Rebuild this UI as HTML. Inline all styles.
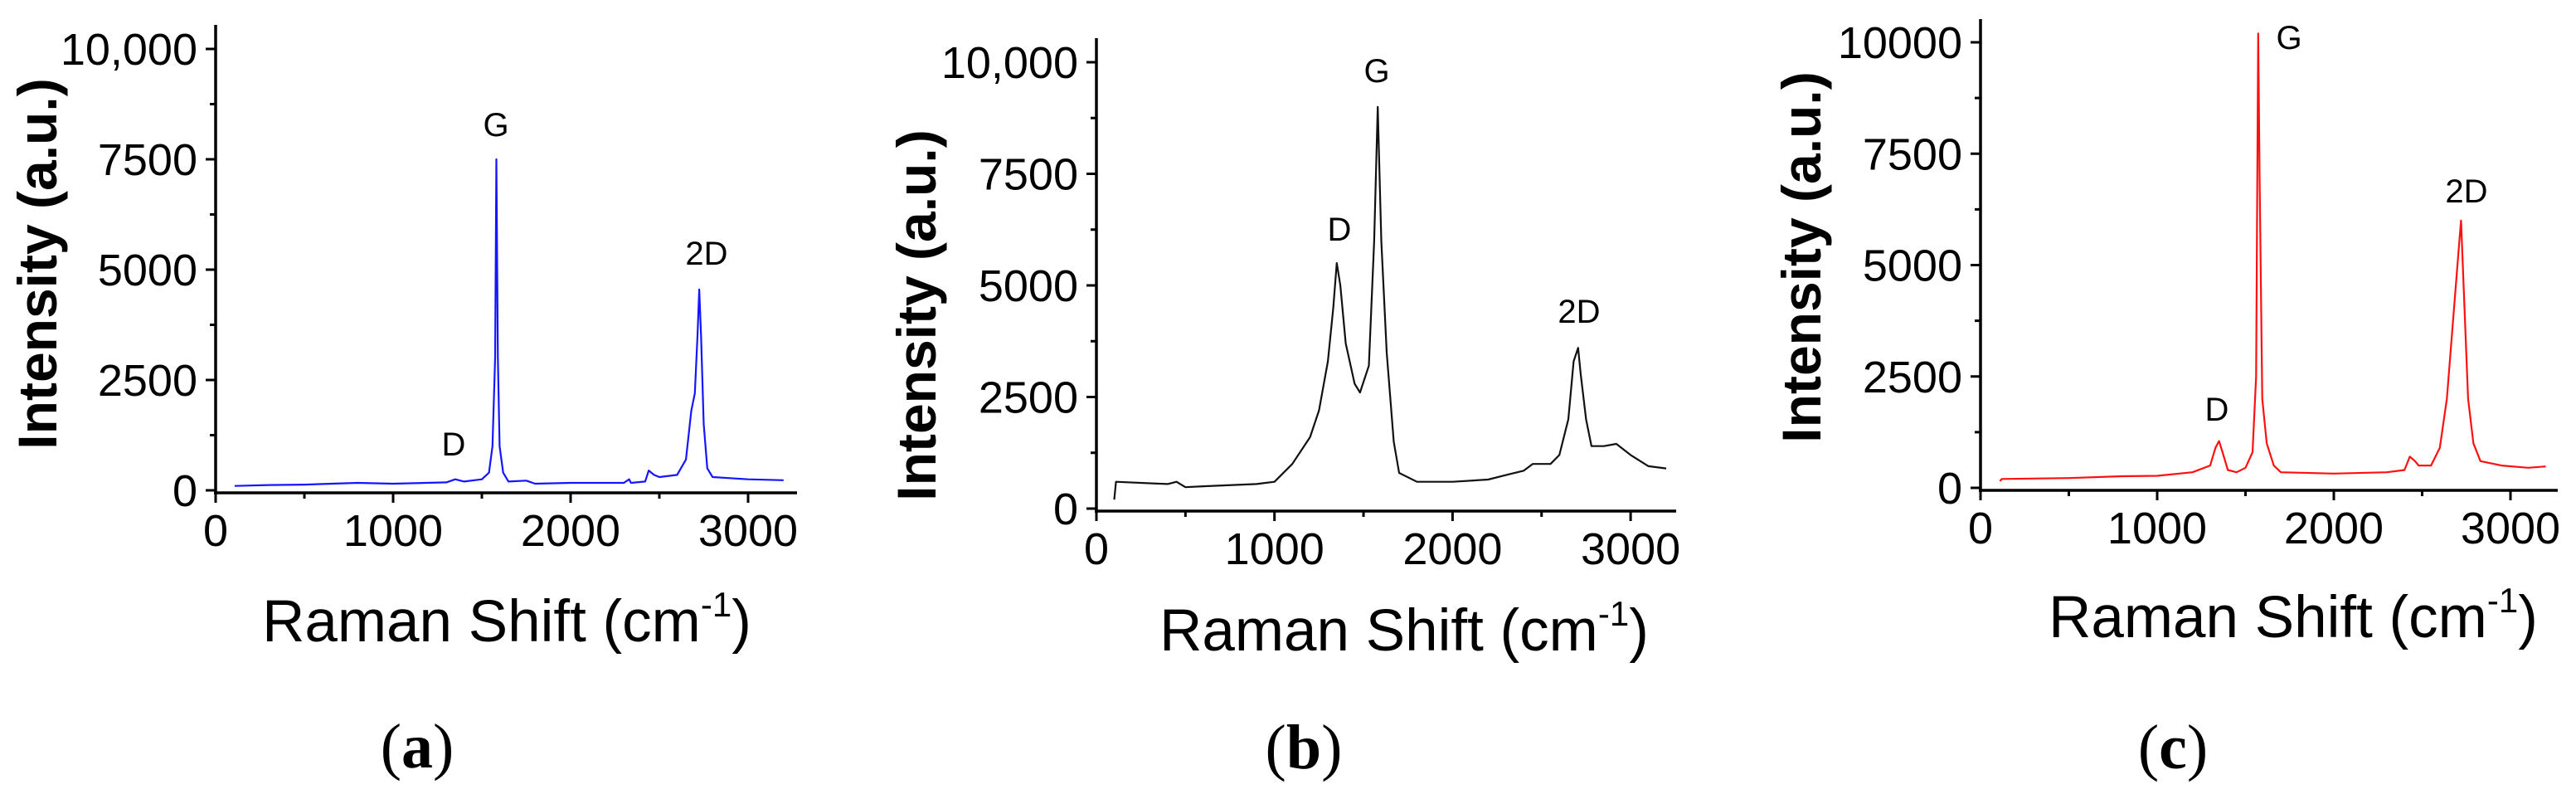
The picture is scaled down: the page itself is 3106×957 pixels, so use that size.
<!DOCTYPE html>
<html><head><meta charset="utf-8"><style>
html,body{margin:0;padding:0;background:#fff;}
svg{display:block;font-family:"Liberation Sans",Arial,sans-serif;}
</style></head><body>
<svg id="fig" width="3106" height="957" viewBox="0 0 3106 957" xmlns="http://www.w3.org/2000/svg"></svg>
<script>
// Panel (a) data
const shiftA = [107,300,500,800,1000,1300,1350,1400,1500,1540,1560,1575,1582,1590,1600,1620,1650,1750,1800,2000,2300,2330,2340,2420,2440,2470,2500,2600,2650,2680,2700,2715,2725,2735,2750,2770,2800,3000,3200];
const intA   = [100,120,130,170,150,180,250,200,250,400,1000,3000,7500,3000,1000,400,200,220,150,170,170,250,170,200,450,350,300,350,700,1800,2200,3500,4550,3500,1500,500,300,250,230];
// Panel (b) data
const shiftB = [100,110,400,450,500,600,900,1000,1100,1200,1250,1300,1330,1350,1370,1400,1450,1480,1530,1560,1580,1600,1630,1670,1700,1800,2000,2200,2300,2400,2450,2550,2600,2650,2680,2705,2720,2750,2780,2850,2920,3000,3100,3200];
const intB   = [200,600,550,600,480,500,550,600,1000,1600,2200,3300,4500,5500,5000,3700,2800,2600,3200,6000,9000,6000,3500,1500,800,600,600,650,750,850,1000,1000,1200,2000,3300,3600,3000,2000,1400,1400,1450,1200,950,900];
// Panel (c) data
const shiftC = [110,120,500,800,1000,1200,1300,1330,1350,1370,1400,1450,1500,1540,1560,1572,1580,1595,1620,1660,1700,2000,2300,2400,2430,2460,2480,2550,2600,2640,2680,2710,2720,2730,2760,2790,2830,2950,3100,3200];
const intC   = [150,200,220,260,270,350,500,900,1050,800,400,350,450,800,2500,10200,7000,2000,1000,500,350,320,350,400,700,600,500,500,900,2000,4000,5500,6000,5000,2000,1000,600,500,450,480];
const yTicks = [0,2500,5000,7500,10000];
const yLabelsAB = ["0","2500","5000","7500","10,000"];
const yLabelsC = ["0","2500","5000","7500","10000"];
const xTicks = [0,1000,2000,3000];
const xLabels = ["0","1000","2000","3000"];

const NS="http://www.w3.org/2000/svg";
const svg=document.getElementById('fig');
function mk(tag,attrs,parent){const e=document.createElementNS(NS,tag);for(const k in attrs)e.setAttribute(k,attrs[k]);(parent||svg).appendChild(e);return e;}

const panels=[
 {id:'a',ax:260,top:30,xaxY:594,y0:591,y10:59,px1000:214,right:961,xs:shiftA,ys:intA,color:'#1515ff',ylab:yLabelsAB,
  ytx:45,yty:318,xtx:611,xty:773,cap:503,capy:925,
  peaks:[['D',547,549],['G',598,164],['2D',852,319]]},
 {id:'b',ax:1322,top:46,xaxY:616,y0:613,y10:75,px1000:214.7,right:2021,xs:shiftB,ys:intB,color:'#111',ylab:yLabelsAB,
  ytx:1105,yty:380,xtx:1693,xty:784,cap:1572,capy:926,
  peaks:[['D',1615,290],['G',1660,99],['2D',1904,389]]},
 {id:'c',ax:2388,top:23,xaxY:591,y0:588,y10:51,px1000:213,right:3084,xs:shiftC,ys:intC,color:'#ff1010',ylab:yLabelsC,
  ytx:2172,yty:310,xtx:2765,xty:768,cap:2620,capy:926,
  peaks:[['D',2673,507],['G',2760,59],['2D',2974,244]]}
];

panels.forEach(p=>{
  const g=mk('g',{});
  
  
  const X=v=>p.ax+v*p.px1000/1000;
  const Y=v=>p.y0+(p.y10-p.y0)*v/10000;
  // spectrum
  const pts=p.xs.map((x,i)=>X(x).toFixed(1)+','+Y(p.ys[i]).toFixed(1)).join(' ');
  const line=mk('polyline',{points:pts,fill:'none',stroke:p.color,'stroke-width':2.2,'stroke-linejoin':'round'},g);
  
  
  // axes
  const ya=mk('line',{x1:p.ax,y1:p.top,x2:p.ax,y2:p.xaxY+2,stroke:'#000','stroke-width':3.5},g);
  
  
  const xa=mk('line',{x1:p.ax-2,y1:p.xaxY,x2:p.right,y2:p.xaxY,stroke:'#000','stroke-width':3.5},g);
  
  
  // y ticks
  yTicks.forEach((t,i)=>{
    const y=Y(t);
    mk('line',{x1:p.ax-12,y1:y,x2:p.ax,y2:y,stroke:'#000','stroke-width':3},g);
    if(i<yTicks.length-1){const ym=Y(t+1250);mk('line',{x1:p.ax-7,y1:ym,x2:p.ax,y2:ym,stroke:'#000','stroke-width':3},g);}
    const tx=mk('text',{x:p.ax-22,y:y+19,'font-size':54,'text-anchor':'end',fill:'#000'},g);
    tx.textContent=p.ylab[i];
    
    
  });
  // x ticks
  xTicks.forEach((t,i)=>{
    const x=X(t);
    mk('line',{x1:x,y1:p.xaxY,x2:x,y2:p.xaxY+12,stroke:'#000','stroke-width':3},g);
    const xm=X(t+500);
    if(xm<p.right) mk('line',{x1:xm,y1:p.xaxY,x2:xm,y2:p.xaxY+7,stroke:'#000','stroke-width':3},g);
    const tx=mk('text',{x:x,y:p.xaxY+64,'font-size':54,'text-anchor':'middle',fill:'#000'},g);
    tx.textContent=xLabels[i];
    
    
  });
  // titles
  const yt=mk('text',{x:p.ytx,y:p.yty,'font-size':66,'font-weight':'bold','text-anchor':'middle',fill:'#000',
    transform:'rotate(-90 '+p.ytx+' '+p.yty+') translate(0 23)'},g);
  yt.textContent='Intensity (a.u.)';
  
  
  const xt=mk('text',{x:p.xtx,y:p.xty,'font-size':71,'text-anchor':'middle',fill:'#000'},g);
  
  
  xt.appendChild(document.createTextNode('Raman Shift (cm'));
  const sup=document.createElementNS(NS,'tspan');
  sup.setAttribute('font-size','42');sup.setAttribute('dy','-30');
  sup.textContent='-1';xt.appendChild(sup);
  const cl=document.createElementNS(NS,'tspan');
  cl.setAttribute('dy','30');cl.textContent=')';xt.appendChild(cl);
  // peak labels
  p.peaks.forEach(pk=>{
    const t=mk('text',{x:pk[1],y:pk[2],'font-size':40,'text-anchor':'middle',fill:'#000'},g);
    t.textContent=pk[0];
    
    
  });
  // caption
  const c=mk('text',{x:p.cap,y:p.capy,'font-size':76,'text-anchor':'middle',fill:'#000','font-family':'"Liberation Serif",serif'},g);
  
  
  c.appendChild(document.createTextNode('('));
  const b=document.createElementNS(NS,'tspan');b.setAttribute('font-weight','bold');b.textContent=p.id;c.appendChild(b);
  c.appendChild(document.createTextNode(')'));
});
</script>
</body></html>
